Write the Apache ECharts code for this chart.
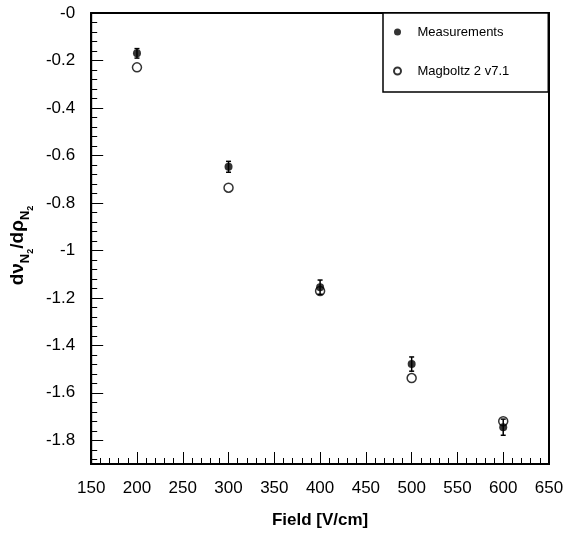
<!DOCTYPE html>
<html>
<head>
<meta charset="utf-8">
<script src="https://cdn.jsdelivr.net/npm/echarts@6/dist/echarts.min.js"></script>
<style>
  html, body { margin: 0; padding: 0; background: #fff; }
  #chart { width: 571px; height: 534px; }
</style>
</head>
<body>
<div id="chart"></div>
<script>
// 数据
var fieldVals = [200, 300, 400, 500, 600];
var measVals = [-0.170, -0.648, -1.155, -1.479, -1.745];
var measErr = [0.020, 0.023, 0.030, 0.030, 0.034];
var magVals = [-0.229, -0.736, -1.171, -1.538, -1.720];
var xTicks = [150, 650, 50];      // min, max, interval
var yTicks = [0, 1.9, 0.2, 0.04]; // |y| : min, max, major, minor

// y 轴画成倒置的 |y|，标签前面加负号（ROOT 风格 "-0"）
function neg(v) { return -v; }

var font = 'Liberation Sans, Arial, Helvetica, sans-serif';

var measData = fieldVals.map(function (x, i) { return [x, neg(measVals[i])]; });
var magData = fieldVals.map(function (x, i) { return [x, neg(magVals[i])]; });
var errData = fieldVals.map(function (x, i) {
    return [x, neg(measVals[i]), measErr[i]];
});

var myChart = echarts.init(document.getElementById('chart'));

var option = {
    backgroundColor: '#fff',
    animation: false,
    textStyle: { fontFamily: font },
    grid: {
        left: 87, right: 22, top: 13, bottom: 69,
        show: true,
        borderColor: '#000',
        borderWidth: 2,
        backgroundColor: 'transparent'
    },
    legend: {
        orient: 'vertical',
        left: 383,
        top: 13,
        backgroundColor: '#fff',
        borderColor: '#000',
        borderWidth: 1.5,
        borderRadius: 0,
        padding: [11, 39, 13, 10],
        itemGap: 23,
        itemWidth: 24,
        itemHeight: 7,
        textStyle: {
            fontFamily: font,
            fontSize: 13,
            color: '#000',
            lineHeight: 16,
            padding: [0, 0, 0, 3]
        },
        data: [
            { name: 'Measurements', icon: 'circle' },
            { name: 'Magboltz 2 v7.1', icon: 'circle' }
        ]
    },
    xAxis: {
        type: 'value',
        position: 'bottom',
        min: xTicks[0],
        max: xTicks[1],
        interval: xTicks[2],
        name: 'Field [V/cm]',
        nameLocation: 'middle',
        nameGap: 48,
        nameTextStyle: { fontFamily: font, fontSize: 17, fontWeight: 'bold', color: '#000' },
        axisLine: { show: true, onZero: false, lineStyle: { color: '#000', width: 2 } },
        axisTick: { show: true, inside: true, length: 12, lineStyle: { color: '#000', width: 1 } },
        minorTick: { show: true, splitNumber: 5, length: 6, lineStyle: { color: '#000', width: 1 } },
        axisLabel: { fontFamily: font, fontSize: 17, color: '#000', margin: 16 },
        splitLine: { show: false }
    },
    yAxis: [{
        type: 'value',
        inverse: true,
        min: yTicks[0],
        max: yTicks[1],
        interval: yTicks[2],
        name: '{a|dν}{s|N}{ss|2}{a|/dρ}{s|N}{ss|2}',
        nameLocation: 'middle',
        nameGap: 42,
        nameTextStyle: {
            fontFamily: font,
            color: '#000',
            padding: [0, 14, 0, 0],
            rich: {
                a: { fontFamily: font, fontSize: 19, fontWeight: 'bold', color: '#000', lineHeight: 25, verticalAlign: 'middle' },
                s: { fontFamily: font, fontSize: 13, fontWeight: 'bold', color: '#000', lineHeight: 13, verticalAlign: 'bottom', padding: [0, 0, -2, 0] },
                ss: { fontFamily: font, fontSize: 9, fontWeight: 'bold', color: '#000', lineHeight: 9, verticalAlign: 'bottom', padding: [0, 0, -5, 0] }
            }
        },
        axisLine: { show: true, lineStyle: { color: '#000', width: 2 } },
        axisTick: { show: true, inside: true, length: 12, lineStyle: { color: '#000', width: 1 } },
        axisLabel: {
            fontFamily: font, fontSize: 17, color: '#000', margin: 16,
            showMaxLabel: false,
            formatter: function (v) { return '-' + Math.round(v * 10) / 10; }
        },
        splitLine: { show: false }
    }, {
        // 次刻度
        type: 'value',
        inverse: true,
        position: 'left',
        min: yTicks[0],
        max: yTicks[1],
        interval: yTicks[3],
        axisLine: { show: false },
        axisTick: { show: true, inside: true, length: 6, lineStyle: { color: '#000', width: 1 } },
        axisLabel: { show: false },
        splitLine: { show: false }
    }],
    series: [{
        name: 'errbar',
        type: 'custom',
        data: errData,
        z: 2,
        renderItem: function (params, api) {
            var x = api.value(0), y = api.value(1), e = api.value(2);
            var top = api.coord([x, y - e]);
            var bot = api.coord([x, y + e]);
            var w = 2.5;
            var st = { stroke: '#000', lineWidth: 1.5 };
            return {
                type: 'group',
                children: [
                    { type: 'line', shape: { x1: top[0], y1: top[1], x2: bot[0], y2: bot[1] }, style: st },
                    { type: 'line', shape: { x1: top[0] - w, y1: top[1], x2: top[0] + w, y2: top[1] }, style: st },
                    { type: 'line', shape: { x1: bot[0] - w, y1: bot[1], x2: bot[0] + w, y2: bot[1] }, style: st }
                ]
            };
        }
    }, {
        name: 'Magboltz 2 v7.1',
        type: 'scatter',
        data: magData,
        symbol: 'circle',
        symbolSize: 9,
        z: 3,
        itemStyle: { color: 'rgba(255,255,255,0)', borderColor: '#000', borderWidth: 1.5 }
    }, {
        name: 'Measurements',
        type: 'scatter',
        data: measData,
        symbol: 'circle',
        symbolSize: 8,
        z: 4,
        itemStyle: { color: '#000' }
    }]
};

myChart.setOption(option);
window.onresize = myChart.resize;
</script>
</body>
</html>
